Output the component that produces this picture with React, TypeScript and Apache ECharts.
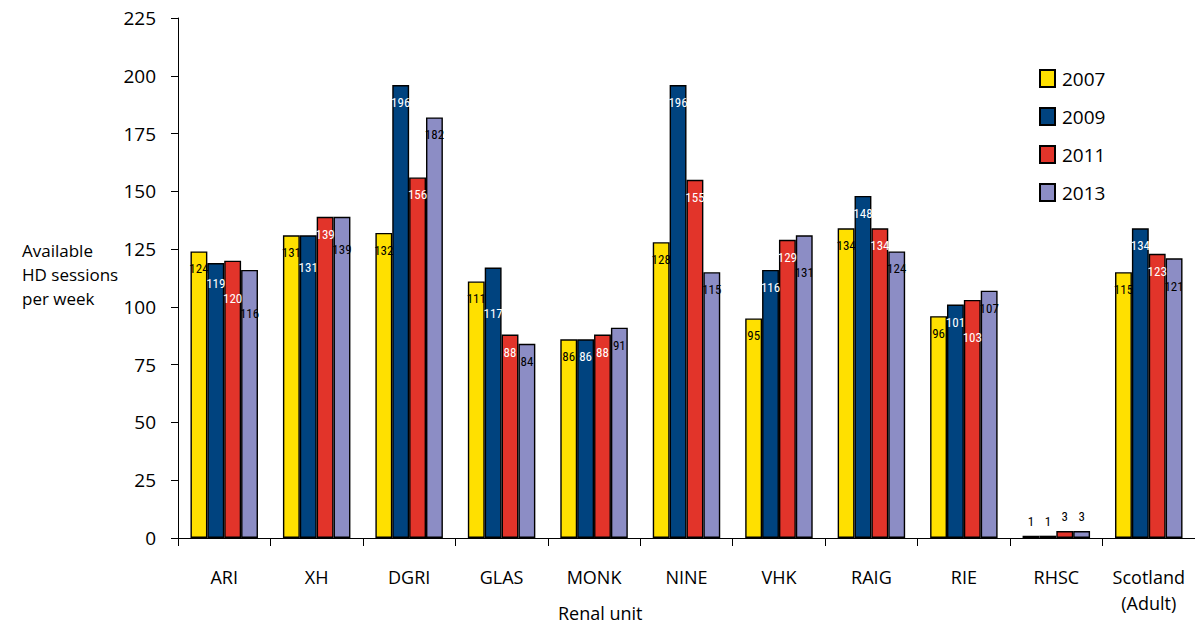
import React, { useEffect, useRef } from "react";
import * as echarts from "echarts";

const categories = ["ARI", "XH", "DGRI", "GLAS", "MONK", "NINE", "VHK", "RAIG", "RIE", "RHSC", "Scotland\n(Adult)"];
const years = ["2007", "2009", "2011", "2013"];
const v2007 = [124, 131, 132, 111, 86, 128, 95, 134, 96, 1, 115];
const v2009 = [119, 131, 196, 117, 86, 196, 116, 148, 101, 1, 134];
const v2011 = [120, 139, 156, 88, 88, 155, 129, 134, 103, 3, 123];
const v2013 = [116, 139, 182, 84, 91, 115, 131, 124, 107, 3, 121];
const yTicks = [0, 25, 50, 75, 100, 125, 150, 175, 200, 225];

const colors = ["#FFE000", "#00437F", "#E2342A", "#8C8DC5"];
const labelColors = ["#000000", "#FFFFFF", "#FFFFFF", "#000000"];

const LABEL_FONT = "'Liberation Sans Narrow', 'Roboto Condensed', 'DejaVu Sans Condensed', 'Open Sans', sans-serif";
const LABEL_SIZE = 13;
const MAIN_FONT = "'Open Sans', 'Noto Sans', sans-serif";

export default function App() {
  const ref = useRef<HTMLDivElement>(null);
  useEffect(() => {
    if (!ref.current) return;
    const chart = echarts.init(ref.current, undefined, { renderer: "svg" });
    const all = [v2007, v2009, v2011, v2013];
    const mkSeries = (dist: number[][] | null) =>
      all.map((vals, i) => ({
        name: years[i],
        type: "bar",
        barGap: "0%",
        barCategoryGap: "27%",
        itemStyle: { color: colors[i], borderColor: "#000", borderWidth: 1.4 },
        data: vals.map((v, j) =>
          v < 10
            ? { value: v, label: { position: "top", distance: 8, color: "#000" } }
            : { value: v, label: { distance: dist ? dist[i][j] : 11 } }
        ),
        label: {
          show: true,
          position: "insideTop",
          distance: 11,
          color: labelColors[i],
          fontFamily: LABEL_FONT,
          fontSize: LABEL_SIZE,
        },
      }));
    const base = {
      animation: false,
      backgroundColor: "#fff",
      grid: { left: 178, top: 18, width: 1020, bottom: 87, containLabel: false },
      legend: {
        orient: "vertical",
        left: 1034,
        top: 64,
        itemWidth: 15,
        itemHeight: 17,
        itemGap: 19,
        icon: "rect",
        data: years,
        textStyle: { fontSize: 19, fontFamily: MAIN_FONT, color: "#000", padding: [0, 0, 0, 2] },
      },
      xAxis: {
        type: "category",
        data: categories,
        axisLine: { lineStyle: { color: "#000", width: 1 } },
        axisTick: { show: true, length: 8, inside: false, lineStyle: { color: "#000" } },
        axisLabel: {
          margin: 26,
          fontSize: 18,
          lineHeight: 26,
          color: "#000",
          fontFamily: MAIN_FONT,
          interval: 0,
          verticalAlign: "top",
        },
      },
      yAxis: {
        type: "value",
        min: yTicks[0],
        max: yTicks[yTicks.length - 1],
        interval: 25,
        splitLine: { show: false },
        axisLine: { show: true, lineStyle: { color: "#000", width: 1 } },
        axisTick: { show: true, length: 7, lineStyle: { color: "#000" } },
        axisLabel: { margin: 22, fontSize: 19, color: "#000", fontFamily: MAIN_FONT },
      },
      graphic: [
        {
          type: "text",
          left: 22,
          top: 238,
          style: {
            text: "Available\nHD sessions\nper week",
            fill: "#000",
            font: `17px ${MAIN_FONT}`,
            align: "center",
            lineHeight: 24,
          },
        },
        {
          type: "text",
          left: 558,
          top: 604,
          style: { text: "Renal unit", fill: "#000", font: `18px ${MAIN_FONT}` },
        },
      ],
      series: mkSeries(null),
    };
    chart.setOption(base);

    // compute label offsets so labels of neighbouring bars don't collide
    const ctx = document.createElement("canvas").getContext("2d");
    const measure = (t: string) => {
      if (!ctx) return t.length * 6.5;
      ctx.font = `${LABEL_SIZE}px ${LABEL_FONT}`;
      return ctx.measureText(t).width;
    };
    const p0 = chart.convertToPixel({ gridIndex: 0 }, [0, 0]) as number[];
    const p1 = chart.convertToPixel({ gridIndex: 0 }, [0, 100]) as number[];
    const pxPerUnit = (p0[1] - p1[1]) / 100;
    const catW = 1020 / categories.length;
    const barW = (catW * (1 - 0.27)) / 4;
    const H = LABEL_SIZE + 1;
    const D0 = 11;
    const dist: number[][] = all.map(() => categories.map(() => D0));
    categories.forEach((_, j) => {
      let prevTop = Infinity;
      let prevBottom = -Infinity;
      let prevW = 0;
      all.forEach((vals, i) => {
        const v = vals[j];
        if (v < 10) {
          prevTop = Infinity;
          prevBottom = -Infinity;
          return;
        }
        const top = p0[1] - v * pxPerUnit;
        const w = measure(String(v));
        let textTop = top + D0;
        const xOverlap = (w + prevW) / 2 > barW - 0.5;
        if (xOverlap && textTop < prevBottom + 1 && textTop + H > prevTop - 1) {
          textTop = prevBottom + 1;
        }
        dist[i][j] = textTop - top;
        prevTop = textTop;
        prevBottom = textTop + H;
        prevW = w;
      });
    });
    chart.setOption({ series: mkSeries(dist) });
    return () => chart.dispose();
  }, []);
  return <div ref={ref} style={{ position: "fixed", left: 0, top: 0, width: 1195, height: 625 }} />;
}
